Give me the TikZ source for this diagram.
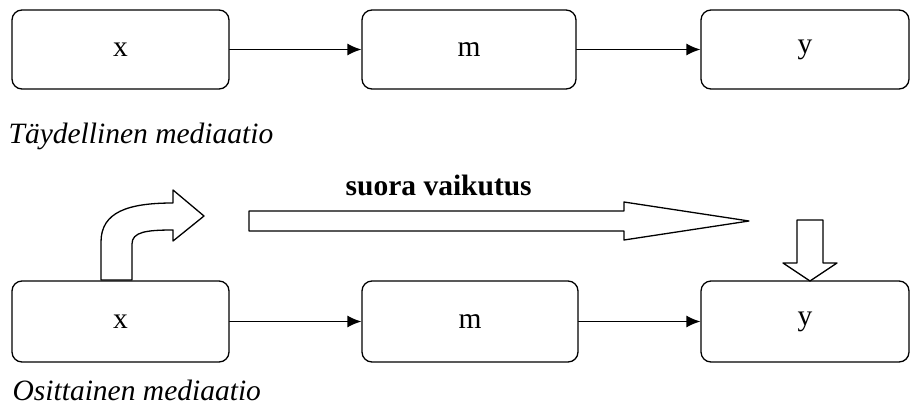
\documentclass[tikz,border=0pt]{standalone}
\usepackage{fontspec}
\setmainfont{Liberation Serif}
\usepackage{tikz}
\usetikzlibrary{arrows.meta}
\tikzset{>={Latex[length=14pt,width=12pt]}}
\tikzset{laatikko/.style={draw,rounded corners=10pt,line width=1.3pt,inner sep=0pt,font=\fontsize{29.5}{32}\selectfont}}
\tikzset{teksti/.style={inner sep=0pt,anchor=base west}}

\begin{document}
\begin{tikzpicture}[line cap=round,line join=round,x=1pt,y=-1pt,line width=1.3pt]
	\useasboundingbox (0,0) rectangle (912,407);
	% taydellinen mediaatio
	\node[laatikko,minimum width=217pt,minimum height=79pt] (x1) at (120.5,49.5) {x};
	\node[laatikko,minimum width=214pt,minimum height=79pt] (m1) at (469,49.5) {m};
	\node[laatikko,minimum width=208pt,minimum height=79pt] (y1) at (805,49.5) {y};
	\draw[->] (x1) -- (m1);
	\draw[->] (m1) -- (y1);
	\node[teksti,font=\fontsize{29.5}{32}\selectfont\itshape] (t1) at (8,143) {Täydellinen mediaatio};
	% osittainen mediaatio
	\node[laatikko,minimum width=217pt,minimum height=81pt] (x2) at (120.5,321.5) {x};
	\node[laatikko,minimum width=216pt,minimum height=81pt] (m2) at (470,321.5) {m};
	\node[laatikko,minimum width=208pt,minimum height=81pt] (y2) at (805,321.5) {y};
	\draw[->] (x2) -- (m2);
	\draw[->] (m2) -- (y2);
	\node[teksti,font=\fontsize{29.5}{32}\selectfont\itshape] (t2) at (12,400) {Osittainen mediaatio};
	\node[teksti,font=\fontsize{29.5}{32}\selectfont\bfseries] (suora) at (345,195) {suora vaikutus};
	% kaareva nuoli
	\draw[fill=white] (101,280) -- (101,242) .. controls (101,212) and (128,203) .. (173,203)
		-- (173,190) -- (204,216) -- (173,241) -- (173,230)
		.. controls (146,230) and (132,232) .. (132,244) -- (132,280) -- cycle;
	% suora nuoli
	\draw[fill=white] (249,211) -- (624,211) -- (624,202) -- (749,221) -- (624,240)
		-- (624,231) -- (249,231) -- cycle;
	% alas nuoli
	\draw[fill=white] (797,220) -- (823,220) -- (823,263) -- (837,263) -- (810,281)
		-- (783,263) -- (797,263) -- cycle;
\end{tikzpicture}
\end{document}
